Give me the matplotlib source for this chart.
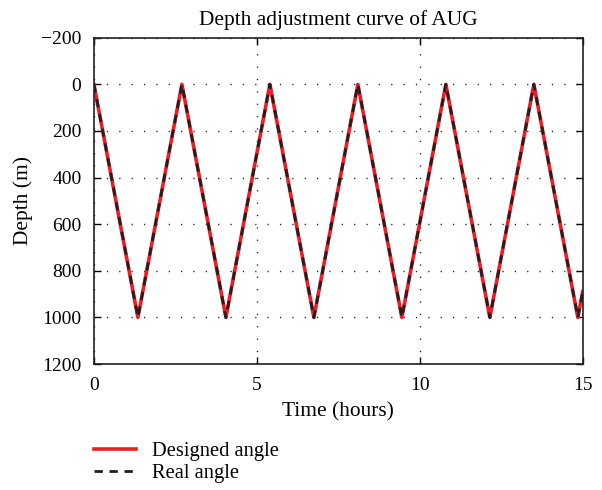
import matplotlib
matplotlib.use("Agg")
import matplotlib.pyplot as plt

# Glider dive profile: turning points of the depth schedule
time_hours = [0.0, 1.35, 2.70, 4.05, 5.40, 6.75, 8.10, 9.45, 10.80, 12.15, 13.50, 14.85, 15.0]
designed_depth = [0, 1000, 0, 1000, 0, 1000, 0, 1000, 0, 1000, 0, 1000, 889]
real_depth = [0, 1000, 0, 1000, 0, 1000, 0, 1000, 0, 1000, 0, 1000, 889]

x_ticks = [0, 5, 10, 15]
y_ticks = [-200, 0, 200, 400, 600, 800, 1000, 1200]

plt.rcParams['font.family'] = ['Liberation Serif', 'DejaVu Serif']
plt.rcParams['font.size'] = 14

fig = plt.figure(figsize=(6.02, 4.90), dpi=100)
ax = fig.add_axes([0.156, 0.257, 0.812, 0.666])

l1, = ax.plot(time_hours, designed_depth, color='#ee1c24', lw=2.6, label='Designed angle')
l2, = ax.plot(time_hours, real_depth, color='#231f20', lw=2.0, ls=(0, (3.0, 2.4)), label='Real angle')

ax.set_xlim(0, 15)
ax.set_ylim(1200, -200)
ax.set_xticks(x_ticks)
ax.set_yticks(y_ticks)
ax.set_yticklabels(['\u2212200' if v < 0 else str(v) for v in y_ticks])
ax.grid(True, color='#231f20', ls=(0, (0.9, 8.0)), lw=1.0)
ax.tick_params(direction='in', top=True, right=True, length=5, width=1, labelsize=14)
ax.tick_params(axis='x', pad=9)
ax.tick_params(axis='y', pad=9)
for s in ax.spines.values():
    s.set_linewidth(1.2)
    s.set_color('#231f20')

ax.set_title('Depth adjustment curve of AUG', fontsize=15.4, pad=9)
ax.set_xlabel('Time (hours)', fontsize=15.4, labelpad=6)
ax.set_ylabel('Depth (m)', fontsize=15.4, labelpad=6)

fig.legend(handles=[l1, l2], loc='upper left', bbox_to_anchor=(0.143, 0.115),
           frameon=False, fontsize=14.8, handlelength=2.05, handletextpad=0.75,
           labelspacing=0.12, borderaxespad=0)

fig.savefig('out.png', dpi=100)
